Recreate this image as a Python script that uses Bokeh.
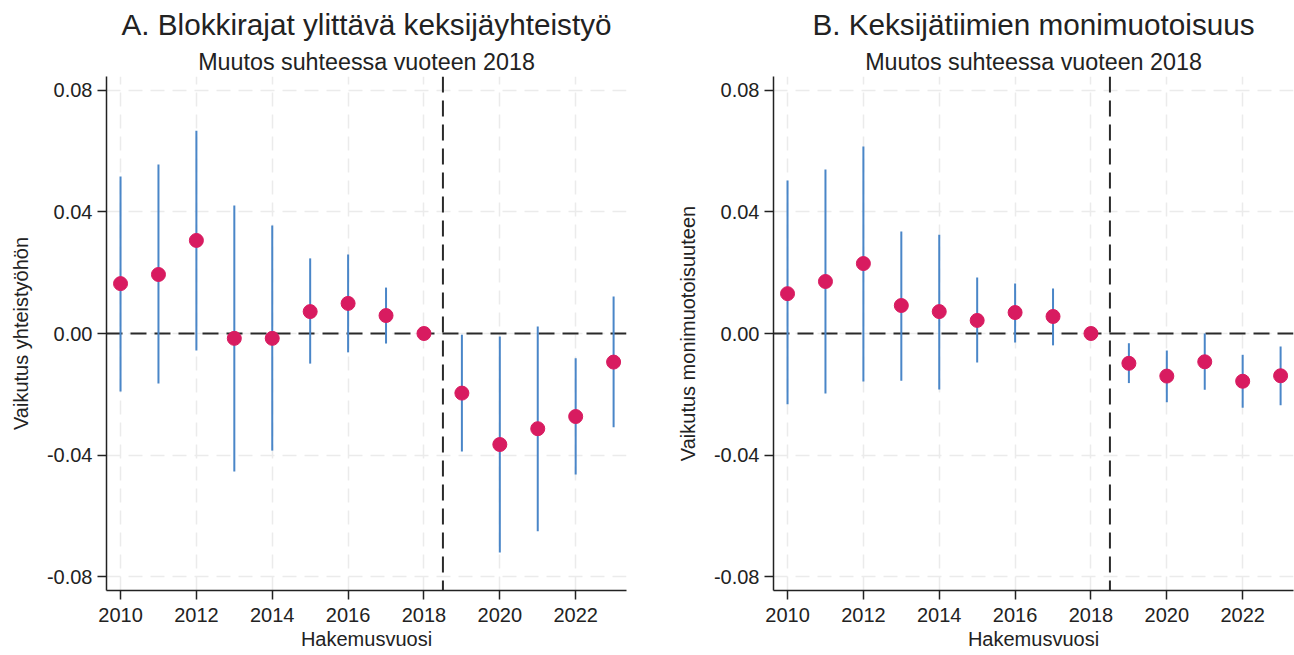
from bokeh.plotting import figure
from bokeh.layouts import row
from bokeh.models import Span, Title, FixedTicker, ColumnDataSource
from bokeh.embed import file_html
from bokeh.resources import INLINE

nan = float("nan")

years = [2010, 2011, 2012, 2013, 2014, 2015, 2016, 2017, 2018, 2019, 2020, 2021, 2022, 2023]

# Panel A: Blokkirajat ylittävä keksijäyhteistyö
a_est = [0.0164, 0.0194, 0.0306, -0.0016, -0.0016, 0.0072, 0.0099, 0.0059, 0.0,
         -0.0196, -0.0365, -0.0313, -0.0273, -0.0094]
a_lo = [-0.0191, -0.0164, -0.0056, -0.0454, -0.0385, -0.0099, -0.0062, -0.0033, nan,
        -0.0388, -0.0720, -0.0650, -0.0464, -0.0308]
a_hi = [0.0516, 0.0556, 0.0667, 0.0421, 0.0355, 0.0247, 0.0260, 0.0151, nan,
        -0.0004, -0.0010, 0.0023, -0.0081, 0.0122]

# Panel B: Keksijätiimien monimuotoisuus
b_est = [0.0131, 0.0171, 0.0230, 0.0092, 0.0072, 0.0043, 0.0069, 0.0056, 0.0,
         -0.0098, -0.0140, -0.0093, -0.0157, -0.0139]
b_lo = [-0.0233, -0.0197, -0.0158, -0.0155, -0.0184, -0.0095, -0.0030, -0.0039, nan,
        -0.0163, -0.0226, -0.0185, -0.0244, -0.0236]
b_hi = [0.0503, 0.0539, 0.0615, 0.0335, 0.0325, 0.0184, 0.0164, 0.0148, nan,
        -0.0032, -0.0056, 0.0000, -0.0070, -0.0043]

x_ticks = [2010, 2012, 2014, 2016, 2018, 2020, 2022]
x_tick_labels = ["2010", "2012", "2014", "2016", "2018", "2020", "2022"]
y_ticks = [-0.08, -0.04, 0.0, 0.04, 0.08]
y_tick_labels = ["-0.08", "-0.04", "0.00", "0.04", "0.08"]

titles = ["A. Blokkirajat ylittävä keksijäyhteistyö", "B. Keksijätiimien monimuotoisuus"]
subtitle = "Muutos suhteessa vuoteen 2018"
x_label = "Hakemusvuosi"
y_labels = ["Vaikutus yhteistyöhön", "Vaikutus monimuotoisuuteen"]
treat_line = 2018.5

FONT = "Liberation Sans"
TXT = "#222222"
POINT = "#d81b60"
BAR = "#4a86c8"
GRID = "#ebebeb"
REF = "#2a2a2a"


def make_panel(title, ylabel, est, lo, hi, width, bl, br):
    p = figure(width=width, height=652, x_range=(2009.63, 2023.34), y_range=(-0.0845, 0.0845),
               output_backend="svg", toolbar_location=None, title=None,
               min_border_left=bl, min_border_right=br, min_border_top=76, min_border_bottom=62)
    p.outline_line_color = None
    p.background_fill_color = "white"
    p.border_fill_color = "white"

    p.add_layout(Title(text=subtitle, align="center", text_font_size="23.3px", text_font=FONT,
                       text_font_style="normal", text_color=TXT, standoff=4), "above")
    p.add_layout(Title(text=title, align="center", text_font_size="29.7px", text_font=FONT,
                       text_font_style="normal", text_color=TXT, standoff=8), "above")

    for ax in (p.xaxis[0], p.yaxis[0]):
        ax.axis_line_color = TXT
        ax.axis_line_width = 1.5
        ax.major_tick_line_color = TXT
        ax.major_tick_line_width = 1.5
        ax.major_tick_out = 9
        ax.major_tick_in = 0
        ax.minor_tick_line_color = None
        ax.major_label_text_font = FONT
        ax.major_label_text_font_size = "20px"
        ax.major_label_text_color = TXT
        ax.axis_label_text_font = FONT
        ax.axis_label_text_font_size = "20px"
        ax.axis_label_text_font_style = "normal"
        ax.axis_label_text_color = TXT

    p.xaxis.ticker = FixedTicker(ticks=x_ticks)
    p.xaxis.major_label_overrides = dict(zip(x_ticks, x_tick_labels))
    p.yaxis.ticker = FixedTicker(ticks=y_ticks)
    p.yaxis.major_label_overrides = dict(zip(y_ticks, y_tick_labels))
    p.xaxis.axis_label = x_label
    p.yaxis.axis_label = ylabel
    p.xaxis.major_label_standoff = 8
    p.yaxis.major_label_standoff = 5
    p.xaxis.axis_label_standoff = 3
    p.yaxis.axis_label_standoff = 12

    p.xgrid.ticker = FixedTicker(ticks=x_ticks)
    p.ygrid.ticker = FixedTicker(ticks=y_ticks)
    for g in (p.xgrid[0], p.ygrid[0]):
        g.grid_line_color = GRID
        g.grid_line_width = 1.5
        g.grid_line_dash = "14 8"

    p.add_layout(Span(location=0, dimension="width", line_color=REF, line_width=2,
                      line_dash="16 8", level="underlay"))
    p.add_layout(Span(location=treat_line, dimension="height", line_color=REF, line_width=2,
                      line_dash="16 8", level="underlay"))

    src = ColumnDataSource(dict(x=years, est=est, lo=lo, hi=hi))
    p.segment(x0="x", y0="lo", x1="x", y1="hi", source=src, line_color=BAR, line_width=2)
    p.scatter(x="x", y="est", source=src, size=14, fill_color=POINT, line_color=POINT)
    return p


p1 = make_panel(titles[0], y_labels[0], a_est, a_lo, a_hi, 650, 106, 24)
p2 = make_panel(titles[1], y_labels[1], b_est, b_lo, b_hi, 644, 123, 1)

layout = row(p1, p2)
open("out.html", "w").write(file_html(layout, INLINE))
